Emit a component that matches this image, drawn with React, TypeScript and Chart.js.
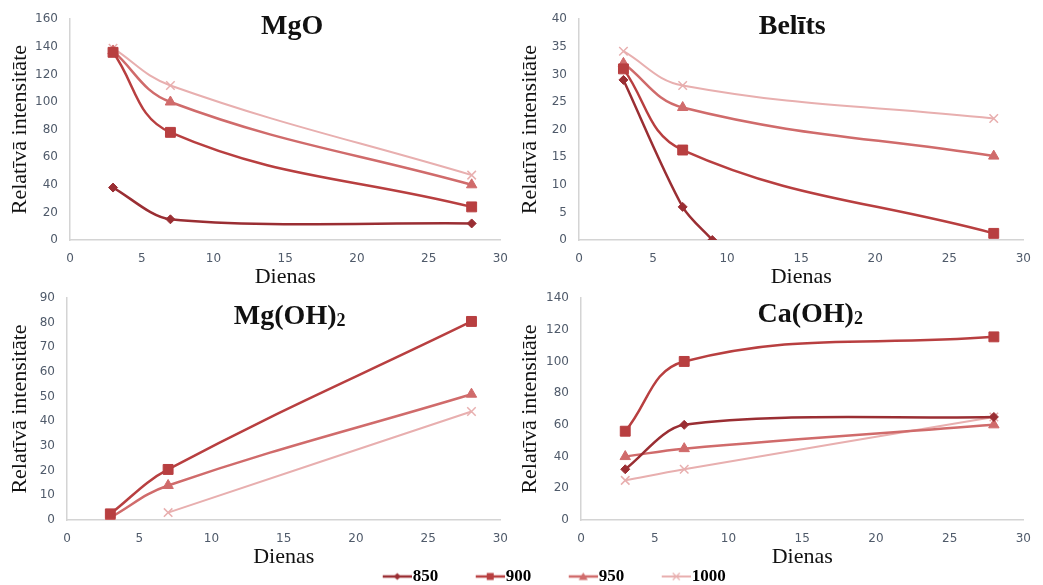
import React, { useEffect, useRef } from "react";
import { Chart, registerables } from "chart.js";

Chart.register(...registerables);

// ---------- DATA ----------
const days = [3, 7, 28];
const belitsDays850 = [3, 7, 9];
const mgOH1000Days = [7, 28];

const seriesLabels = ["850", "900", "950", "1000"];

const mgo850 = [38, 15, 12];
const mgo900 = [136, 78, 24];
const mgo950 = [137, 100, 40];
const mgo1000 = [139, 112, 47];

const belits850 = [29, 6, 0];
const belits900 = [31, 16.3, 1.2];
const belits950 = [32, 24, 15.2];
const belits1000 = [34.2, 28, 22];

const mgOH850: number[] = [];
const mgOH900 = [2.5, 20.5, 80.5];
const mgOH950 = [1, 14, 51];
const mgOH1000 = [3, 44];

const caOH850 = [32, 60, 65];
const caOH900 = [56, 100, 115.5];
const caOH950 = [40, 45, 60];
const caOH1000 = [25, 32, 65];

const xTicksMax = 30;

// ---------- STYLE ----------
const colors = ["#9a2e33", "#b83f40", "#d06b6b", "#e8afaf"];
const pointStyles = ["rectRot", "rect", "triangle", "crossRot"];
const pointRadii = [4.5, 7, 6, 6];
const lineWidths = [2.5, 2.5, 2.5, 2];
const tensions = [0.3, 0.4, 0.4, 0.4];

const pts = (xs: number[], ys: number[]) => ys.map((y, i) => ({ x: xs[i], y }));

const panels = [
  {
    title: "MgO", sub: "", left: 0, top: 0, width: 520, height: 290, yWidth: 70, padTop: 18, padRight: 10,
    yMax: 160, yStep: 20, titleDx: 7, titleBase: 15,
    series: [pts(days, mgo850), pts(days, mgo900), pts(days, mgo950), pts(days, mgo1000)],
  },
  {
    title: "Belīts", sub: "", left: 510, top: 0, width: 533, height: 290, yWidth: 69, padTop: 18, padRight: 13,
    yMax: 40, yStep: 5, titleDx: -9, titleBase: 15,
    series: [pts(belitsDays850, belits850), pts(days, belits900), pts(days, belits950), pts(days, belits1000)],
  },
  {
    title: "Mg(OH)", sub: "2", left: 0, top: 270, width: 520, height: 300, yWidth: 67, padTop: 28, padRight: 8,
    yMax: 90, yStep: 10, titleDx: 6, titleBase: 26,
    series: [pts(days, mgOH850), pts(days, mgOH900), pts(days, mgOH950), pts(mgOH1000Days, mgOH1000)],
  },
  {
    title: "Ca(OH)", sub: "2", left: 510, top: 270, width: 533, height: 300, yWidth: 71, padTop: 28, padRight: 16,
    yMax: 140, yStep: 20, titleDx: 8, titleBase: 24,
    series: [pts(days, caOH850), pts(days, caOH900), pts(days, caOH950), pts(days, caOH1000)],
  },
];

const tickColor = "#4f5a6a";
const axisColor = "#d4d4d4";
const serif = '"Liberation Serif", "Times New Roman", serif';

function makePanelChart(canvas: HTMLCanvasElement, p: (typeof panels)[number]) {
  const titlePlugin = {
    id: "panelTitle",
    afterDraw(chart: any) {
      const { ctx, chartArea } = chart;
      ctx.save();
      ctx.fillStyle = "#111111";
      ctx.textBaseline = "alphabetic";
      ctx.textAlign = "left";
      const mainFont = `bold 28px ${serif}`;
      const subFont = `bold 18px ${serif}`;
      ctx.font = mainFont;
      const wMain = ctx.measureText(p.title).width;
      ctx.font = subFont;
      const wSub = p.sub ? ctx.measureText(p.sub).width : 0;
      const cx = (chartArea.left + chartArea.right) / 2 + p.titleDx;
      const x0 = cx - (wMain + wSub) / 2;
      const y = chartArea.top + p.titleBase;
      ctx.font = mainFont;
      ctx.fillText(p.title, x0, y);
      if (p.sub) {
        ctx.font = subFont;
        ctx.fillText(p.sub, x0 + wMain, y + 2);
      }
      ctx.restore();
    },
  };
  return new Chart(canvas, {
    type: "line",
    data: {
      datasets: p.series.map((d, i) => ({
        label: seriesLabels[i],
        data: d,
        borderColor: colors[i],
        backgroundColor: colors[i],
        pointBackgroundColor: colors[i],
        pointBorderColor: colors[i],
        pointStyle: pointStyles[i] as any,
        pointRadius: pointRadii[i],
        pointBorderWidth: i === 3 ? 1.5 : 1,
        borderWidth: lineWidths[i],
        tension: tensions[i],
        fill: false,
      })),
    },
    options: {
      responsive: false,
      animation: false,
      layout: { padding: { top: p.padTop, right: p.padRight, left: 0, bottom: 0 } },
      plugins: { legend: { display: false }, tooltip: { enabled: false } },
      scales: {
        x: {
          type: "linear",
          min: 0,
          max: xTicksMax,
          ticks: { stepSize: 5, padding: 12, color: tickColor, font: { family: '"DejaVu Sans"', size: 12 } },
          grid: { drawOnChartArea: false, drawTicks: false },
          border: { color: axisColor, width: 1.5 },
          title: { display: true, text: "Dienas", color: "#111111", font: { family: serif, size: 22 }, padding: { top: 0, bottom: 0 } },
          afterFit: (scale: any) => { scale.height = 50; },
        },
        y: {
          type: "linear",
          min: 0,
          max: p.yMax,
          ticks: { stepSize: p.yStep, padding: 12, color: tickColor, font: { family: '"DejaVu Sans"', size: 12 } },
          grid: { drawOnChartArea: false, drawTicks: false },
          border: { color: axisColor, width: 1.5 },
          title: { display: true, text: "Relatīvā intensitāte", color: "#111111", font: { family: serif, size: 22 }, padding: { top: 7, bottom: 0 } },
          afterFit: (scale: any) => { scale.width = p.yWidth; },
        },
      },
    },
    plugins: [titlePlugin],
  } as any);
}

function legendImage(i: number): HTMLCanvasElement {
  const c = document.createElement("canvas");
  c.width = 37;
  c.height = 12;
  const ctx = c.getContext("2d")!;
  const cy = 6;
  const cx = 22.5;
  ctx.strokeStyle = colors[i];
  ctx.fillStyle = colors[i];
  ctx.lineWidth = lineWidths[i];
  ctx.beginPath();
  ctx.moveTo(8, cy);
  ctx.lineTo(37, cy);
  ctx.stroke();
  ctx.beginPath();
  if (i === 0) {
    ctx.moveTo(cx - 3.5, cy); ctx.lineTo(cx, cy - 3.5); ctx.lineTo(cx + 3.5, cy); ctx.lineTo(cx, cy + 3.5);
    ctx.closePath(); ctx.fill();
  } else if (i === 1) {
    ctx.rect(cx - 3.5, cy - 3.5, 7, 7); ctx.fill();
  } else if (i === 2) {
    ctx.moveTo(cx, cy - 4); ctx.lineTo(cx + 4.5, cy + 3.5); ctx.lineTo(cx - 4.5, cy + 3.5);
    ctx.closePath(); ctx.fill();
  } else {
    ctx.lineWidth = 1.2;
    ctx.moveTo(cx - 3.5, cy - 3.5); ctx.lineTo(cx + 3.5, cy + 3.5);
    ctx.moveTo(cx + 3.5, cy - 3.5); ctx.lineTo(cx - 3.5, cy + 3.5);
    ctx.stroke();
  }
  return c;
}

function makeLegendChart(canvas: HTMLCanvasElement) {
  const images = seriesLabels.map((_, i) => legendImage(i));
  return new Chart(canvas, {
    type: "line",
    data: {
      datasets: seriesLabels.map((l, i) => ({ label: l, data: [], borderColor: colors[i], backgroundColor: colors[i] })),
    },
    options: {
      responsive: false,
      animation: false,
      layout: { padding: 0 },
      scales: { x: { display: false }, y: { display: false } },
      plugins: {
        tooltip: { enabled: false },
        legend: {
          display: true,
          position: "top",
          align: "center",
          labels: {
            usePointStyle: true,
            pointStyleWidth: 22,
            padding: 37,
            color: "#1a1a1a",
            font: { family: serif, size: 17, weight: "bold" },
            generateLabels: () =>
              seriesLabels.map((l, i) => ({
                text: l,
                pointStyle: images[i],
                fillStyle: colors[i],
                strokeStyle: colors[i],
                lineWidth: 0,
                hidden: false,
                datasetIndex: i,
              })),
          },
        },
      },
    },
  } as any);
}

export default function App() {
  const refs = useRef<(HTMLCanvasElement | null)[]>([]);
  const legendRef = useRef<HTMLCanvasElement | null>(null);

  useEffect(() => {
    const charts: Chart[] = [];
    panels.forEach((p, i) => {
      const c = refs.current[i];
      if (c) charts.push(makePanelChart(c, p));
    });
    if (legendRef.current) charts.push(makeLegendChart(legendRef.current));
    return () => charts.forEach((c) => c.destroy());
  }, []);

  return (
    <div style={{ position: "absolute", left: 0, top: 0, width: 1043, height: 585, overflow: "hidden", background: "#ffffff" }}>
      {panels.map((p, i) => (
        <canvas
          key={p.title}
          ref={(el) => { refs.current[i] = el; }}
          width={p.width}
          height={p.height}
          style={{ position: "absolute", left: p.left, top: p.top, width: p.width, height: p.height }}
        />
      ))}
      <canvas
        ref={legendRef}
        width={480}
        height={140}
        style={{ position: "absolute", left: 314, top: 531, width: 480, height: 140 }}
      />
    </div>
  );
}
